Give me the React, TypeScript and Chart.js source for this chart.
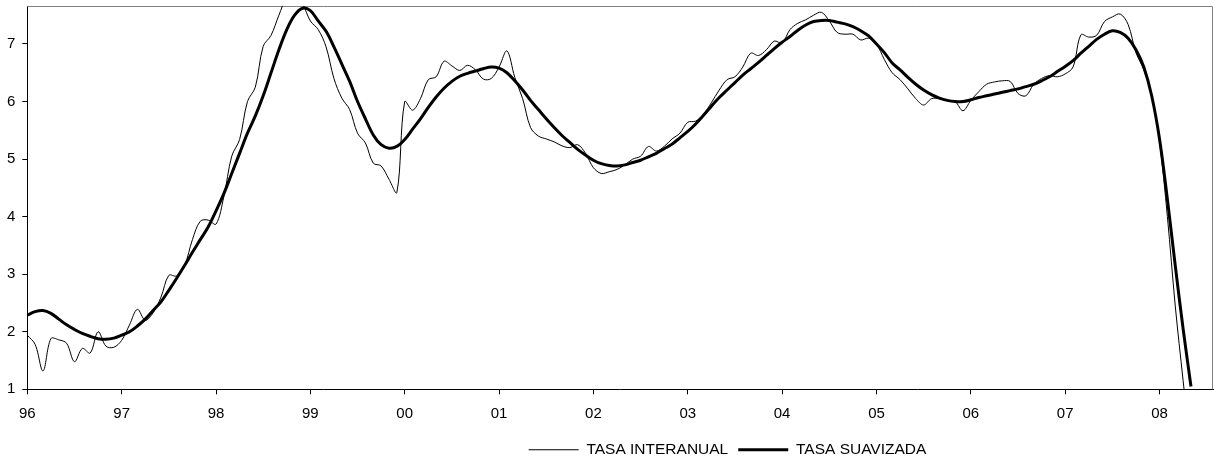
import React, { useEffect, useRef } from "react";
import { Chart, registerables } from "chart.js";

Chart.register(...registerables);

// Monthly observations, Jan 1996 (index 0) to May 2008 (index 148)
const tasaInteranual: number[] = [
  1.94, 1.78, 1.32, 1.88, 1.86, 1.8, 1.48, 1.71, 1.63, 2.0, 1.75, 1.73,
  1.85, 2.12, 2.39, 2.2, 2.33, 2.6, 2.98, 2.97, 3.15, 3.6, 3.92, 3.94,
  3.87, 4.35, 5.05, 5.34, 6.0, 6.25, 6.96, 7.15, 7.5, 7.8, 7.85, 7.7,
  7.4, 7.25, 6.95, 6.4, 6.06, 5.86, 5.45, 5.28, 4.93, 4.88, 4.65, 4.42,
  6.0, 5.85, 6.05, 6.38, 6.43, 6.7, 6.62, 6.54, 6.63, 6.55, 6.39, 6.4,
  6.6, 6.88, 6.42, 6.05, 5.55, 5.4, 5.35, 5.3, 5.23, 5.2, 5.25, 5.1,
  4.85, 4.75, 4.78, 4.82, 4.9, 5.0, 5.05, 5.22, 5.14, 5.22, 5.35, 5.45,
  5.64, 5.66, 5.78, 5.98, 6.2, 6.38, 6.43, 6.6, 6.84, 6.8, 6.9, 7.05,
  7.02, 7.25, 7.36, 7.42, 7.5, 7.55, 7.4, 7.2, 7.17, 7.17, 7.07, 7.1,
  7.0, 6.73, 6.5, 6.38, 6.22, 6.05, 5.94, 6.05, 6.05, 6.02, 6.0, 5.84,
  6.02, 6.17, 6.3, 6.34, 6.36, 6.35, 6.14, 6.1, 6.3, 6.4, 6.45, 6.43,
  6.48, 6.6, 7.16, 7.12, 7.15, 7.39, 7.47, 7.52, 7.34, 6.85, 6.55, 6.1,
  5.3, 4.0, 2.45, 1.15, -0.1,
];

const tasaSuavizada: number[] = [
  2.29, 2.35, 2.37, 2.32, 2.22, 2.12, 2.04, 1.97, 1.92, 1.88, 1.87, 1.89,
  1.94, 2.0, 2.1, 2.22, 2.37, 2.52, 2.72, 2.93, 3.15, 3.38, 3.6, 3.82,
  4.1, 4.4, 4.75, 5.1, 5.45, 5.75, 6.1, 6.5, 6.9, 7.25, 7.5, 7.62,
  7.58, 7.4, 7.22, 6.95, 6.65, 6.35, 6.0, 5.7, 5.42, 5.25, 5.19, 5.22,
  5.34, 5.52, 5.7, 5.9, 6.08, 6.23, 6.35, 6.44, 6.49, 6.53, 6.57, 6.6,
  6.58, 6.5, 6.36, 6.2, 6.02, 5.86, 5.7, 5.55, 5.41, 5.29, 5.17, 5.07,
  4.98, 4.92, 4.89, 4.88, 4.9, 4.94, 4.98, 5.04, 5.1, 5.18, 5.26, 5.37,
  5.48, 5.61, 5.76, 5.92, 6.07, 6.2, 6.33, 6.46, 6.57, 6.68, 6.8, 6.92,
  7.03, 7.13, 7.24, 7.33, 7.39, 7.41, 7.41, 7.38, 7.35, 7.3, 7.23, 7.14,
  7.0, 6.85, 6.67, 6.55, 6.42, 6.3, 6.2, 6.12, 6.06, 6.02, 6.0, 6.0,
  6.03, 6.07, 6.1, 6.13, 6.16, 6.19, 6.22, 6.26, 6.3, 6.36, 6.43, 6.52,
  6.61, 6.71, 6.84, 6.96, 7.08, 7.17, 7.23, 7.2, 7.1, 6.9, 6.6, 6.1,
  5.35, 4.3, 3.15, 2.05, 1.05,
];

// Year tick labels, one every 12 months
const yearLabels: string[] = ["96", "97", "98", "99", "00", "01", "02", "03", "04", "05", "06", "07", "08"];

const seriesNames: string[] = ["TASA INTERANUAL", "TASA SUAVIZADA"];

const FONT = "'Liberation Sans', Arial, Helvetica, sans-serif";

export default function App() {
  const ref = useRef<HTMLCanvasElement | null>(null);

  useEffect(() => {
    if (!ref.current) return;

    const framePlugin = {
      id: "frame",
      beforeDatasetsDraw(chart: any) {
        const { ctx, chartArea } = chart;
        ctx.save();
        ctx.strokeStyle = "#808080";
        ctx.lineWidth = 1;
        ctx.beginPath();
        ctx.moveTo(chartArea.left, chartArea.top + 0.5);
        ctx.lineTo(chartArea.right - 0.5, chartArea.top + 0.5);
        ctx.lineTo(chartArea.right - 0.5, chartArea.bottom);
        ctx.stroke();
        ctx.restore();
      },
    };

    const legendShift = {
      id: "legendShift",
      afterLayout(chart: any) {
        const lg = chart.legend;
        if (!lg) return;
        const dx = 121;
        const dy = 5.5;
        lg.left += dx;
        lg.right += dx;
        lg.top += dy;
        lg.bottom += dy;
      },
    };

    const chart = new Chart(ref.current, {
      type: "line",
      data: {
        datasets: [
          {
            label: seriesNames[0],
            data: tasaInteranual.map((v, i) => ({ x: i, y: v })),
            borderColor: "#000000",
            backgroundColor: "#000000",
            borderWidth: 1,
            pointRadius: 0,
            pointStyle: "line",
            tension: 0.35,
            fill: false,
          },
          {
            label: seriesNames[1],
            data: tasaSuavizada.map((v, i) => ({ x: i, y: v })),
            borderColor: "#000000",
            backgroundColor: "#000000",
            borderWidth: 3,
            pointRadius: 0,
            pointStyle: "line",
            tension: 0.35,
            fill: false,
          },
        ],
      },
      options: {
        responsive: false,
        animation: false,
        devicePixelRatio: 1,
        layout: { padding: { left: 0, top: 6, right: 2, bottom: 0 } },
        plugins: {
          legend: {
            display: true,
            position: "bottom",
            labels: {
              usePointStyle: true,
              pointStyleWidth: 50,
              boxHeight: 15,
              padding: 10,
              color: "#000000",
              font: { family: FONT, size: 15.5 },
            },
          },
          tooltip: { enabled: false },
        },
        scales: {
          x: {
            type: "linear",
            min: 0,
            max: 150.8,
            grid: {
              display: true,
              drawOnChartArea: false,
              drawTicks: true,
              tickLength: 5,
              color: "#000000",
            },
            border: { display: true, color: "#000000", width: 1 },
            ticks: {
              stepSize: 12,
              includeBounds: false,
              autoSkip: false,
              maxRotation: 0,
              padding: 11,
              color: "#000000",
              font: { family: FONT, size: 15 },
              callback: (value: any) => {
                const idx = Math.round(Number(value) / 12);
                return Number(value) % 12 === 0 ? yearLabels[idx] ?? "" : "";
              },
            },
            afterFit: (scale: any) => {
              scale.height = 37.2;
              scale.paddingLeft = 0;
              scale.paddingRight = 0;
            },
          },
          y: {
            type: "linear",
            min: 1,
            max: 7.66,
            grid: {
              display: true,
              drawOnChartArea: false,
              drawTicks: true,
              tickLength: 5,
              color: "#000000",
            },
            border: { display: true, color: "#000000", width: 1 },
            ticks: {
              stepSize: 1,
              includeBounds: false,
              padding: 7,
              color: "#000000",
              font: { family: FONT, size: 15 },
              callback: (value: any) => String(value),
            },
            afterFit: (scale: any) => {
              scale.width = 27.3;
              scale.paddingTop = 0;
              scale.paddingBottom = 0;
            },
          },
        },
      },
      plugins: [framePlugin, legendShift],
    });

    return () => chart.destroy();
  }, []);

  return (
    <div style={{ position: "fixed", left: 0, top: 0, width: 1215, height: 462, background: "#ffffff" }}>
      <canvas ref={ref} width={1215} height={462} style={{ display: "block", width: 1215, height: 462 }} />
    </div>
  );
}
